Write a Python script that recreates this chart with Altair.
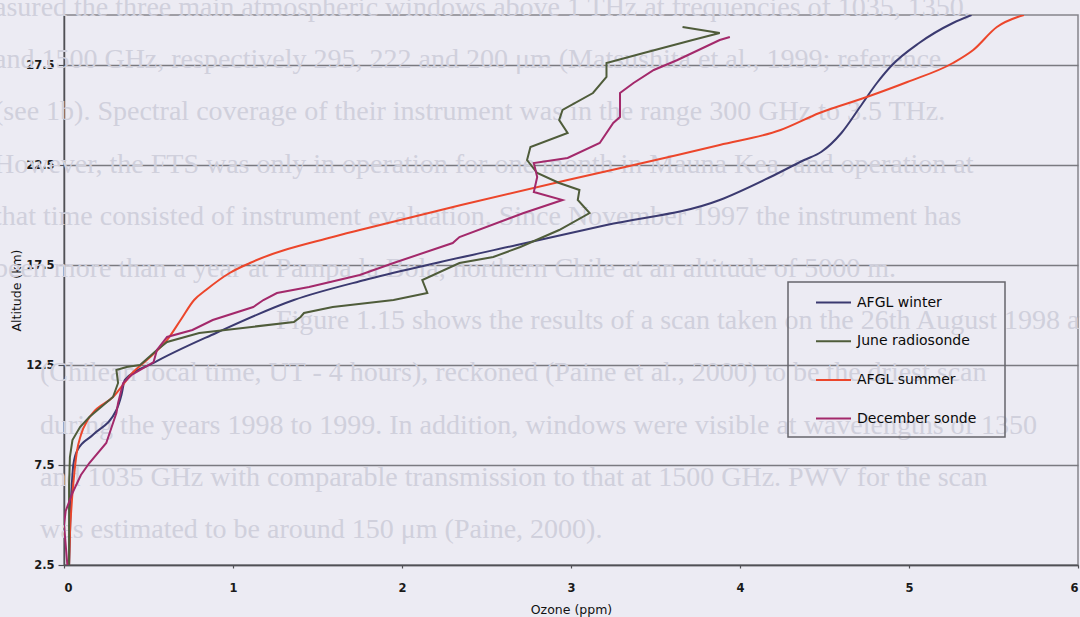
import altair as alt
import pandas as pd

# Ozone profiles: altitude (km) and mixing ratio (ppm)
winter_alt = [2.5, 4.0, 5.5, 7.0, 7.5, 8.25, 9.0, 10.25, 11.0, 11.75, 12.6, 14.1, 15.75, 16.75,
              17.5, 18.5, 19.5, 20.75, 21.9, 22.75, 23.15, 24.1, 25.4, 26.6, 27.5, 28.6, 29.6,
              30.0]
winter_ozone = [0.03, 0.035, 0.04, 0.05, 0.055, 0.08, 0.17, 0.31, 0.34, 0.36, 0.53, 0.90, 1.36,
                1.78, 2.15, 2.68, 3.21, 3.88, 4.18, 4.38, 4.48, 4.60, 4.71, 4.81, 4.90, 5.06,
                5.26, 5.37]

june_alt = [2.5, 4.0, 5.0, 6.5, 7.9, 8.75, 9.4, 9.9, 10.9, 11.6, 12.25, 12.4, 12.5, 13.25,
            13.65, 14.1, 14.65, 14.9, 15.1, 15.4, 15.75, 16.1, 16.75, 17.6, 17.9, 18.4, 19.25,
            20.1, 20.75, 21.25, 21.6, 22.1, 22.75, 23.4, 24.1, 24.75, 25.25, 26.1, 26.9, 27.6,
            28.1, 28.75, 29.1, 29.4]
june_ozone = [0.03, 0.03, 0.03, 0.03, 0.035, 0.05, 0.095, 0.15, 0.29, 0.32, 0.31, 0.37, 0.45,
              0.55, 0.61, 0.80, 1.36, 1.40, 1.42, 1.59, 1.95, 2.15, 2.12, 2.34, 2.54, 2.70,
              2.93, 3.11, 3.04, 3.05, 2.93, 2.80, 2.74, 2.76, 2.98, 2.93, 2.95, 3.13, 3.21,
              3.21, 3.43, 3.72, 3.88, 3.66]

summer_alt = [2.5, 4.0, 5.5, 7.0, 8.1, 9.0, 9.75, 10.1, 10.9, 12.15, 12.75, 13.75, 14.75, 15.75,
              16.25, 17.1, 17.6, 18.9, 19.25, 20.5, 21.75, 23.0, 23.5, 24.25, 25.1, 25.9, 26.65,
              27.6, 28.25, 29.4, 30.0]
summer_ozone = [0.03, 0.035, 0.045, 0.06, 0.075, 0.10, 0.14, 0.17, 0.29, 0.41, 0.49, 0.61, 0.69,
                0.77, 0.84, 0.98, 1.10, 1.59, 1.75, 2.35, 2.98, 3.63, 3.88, 4.24, 4.47, 4.75,
                4.99, 5.26, 5.38, 5.52, 5.68]

december_alt = [2.5, 3.5, 4.5, 5.2, 6.1, 7.0, 7.6, 8.6, 10.1, 10.6, 11.6, 12.0, 12.65, 13.25,
                13.9, 14.25, 14.75, 15.4, 15.75, 16.1, 16.4, 17.0, 17.6, 18.6, 18.9, 20.1,
                20.75, 21.15, 21.9, 22.6, 22.85, 23.6, 24.6, 24.9, 26.1, 26.6, 27.25, 27.75,
                28.75, 28.9]
december_ozone = [0.02, 0.01, 0.0, 0.01, 0.05, 0.10, 0.15, 0.25, 0.31, 0.32, 0.35, 0.40, 0.53,
                  0.55, 0.61, 0.76, 0.88, 1.12, 1.18, 1.26, 1.45, 1.75, 1.95, 2.30, 2.34, 2.72,
                  2.95, 2.78, 2.80, 2.78, 2.98, 3.17, 3.25, 3.29, 3.29, 3.37, 3.49, 3.63, 3.88,
                  3.94]

profile_names = ["AFGL winter", "June radiosonde", "AFGL summer", "December sonde"]
profile_colors = ["#3b3a70", "#4f5c3a", "#ec462b", "#a3296b"]
model_profiles = ["AFGL winter", "AFGL summer"]

altitude_ticks = [2.5, 7.5, 12.5, 17.5, 22.5, 27.5]
ozone_ticks = [0, 1, 2, 3, 4, 5, 6]

# Running text of the page behind the figure
page_lines = [
    "asured the three main atmospheric windows above 1 THz at frequencies of 1035, 1350,",
    "and 1500 GHz, respectively 295, 222 and 200 \u03bcm (Matsushita et al., 1999; reference",
    "(see 1b). Spectral coverage of their instrument was in the range 300 GHz to 3.5 THz.",
    "However, the FTS was only in operation for one month in Mauna Kea, and operation at",
    "that time consisted of instrument evaluation. Since November 1997 the instrument has",
    "been more than a year at Pampa la Bola, northern Chile at an altitude of 5000 m.",
    "Figure 1.15 shows the results of a scan taken on the 26th August 1998 at 12 am",
    "(Chilean local time, UT - 4 hours), reckoned (Paine et al., 2000) to be the driest scan",
    "during the years 1998 to 1999. In addition, windows were visible at wavelengths of 1350",
    "and 1035 GHz with comparable transmission to that at 1500 GHz. PWV for the scan",
    "was estimated to be around 150 \u03bcm (Paine, 2000).",
]
paragraph_start = 6


def line_start(i):
    # first line of a paragraph is indented; the lower lines sit a little further right
    if i == paragraph_start:
        return 276
    return -6 if i < paragraph_start else 40


rows = []
for name, alts, vals in [
    ("AFGL winter", winter_alt, winter_ozone),
    ("June radiosonde", june_alt, june_ozone),
    ("AFGL summer", summer_alt, summer_ozone),
    ("December sonde", december_alt, december_ozone),
]:
    for i, (a, v) in enumerate(zip(alts, vals)):
        rows.append({"profile": name, "altitude": a, "ozone": v, "seq": i})
profiles = pd.DataFrame(rows)

page = pd.DataFrame({
    "row": list(range(len(page_lines))),
    "start": [line_start(i) for i in range(len(page_lines))],
    "line": page_lines,
})

BG = "#ecebf3"
FONT = "DejaVu Sans"
PLOT_W, PLOT_H = 1014, 550
LEGEND_X, LEGEND_Y, LEGEND_W, LEGEND_H = 724, 267, 217, 155

backdrop = alt.Chart(page).mark_text(
    align="left", baseline="middle", font="Liberation Serif", fontSize=28, color="#d0d0dc"
).encode(
    x=alt.X("start:Q", scale=alt.Scale(domain=[0, 1080], range=[-64, 1016]), axis=None),
    y=alt.Y("row:Q", scale=alt.Scale(domain=[0, 10], range=[-7, 515]), axis=None),
    text="line:N",
)

legend_frame = alt.Chart(pd.DataFrame({"box": [0]})).mark_rect(
    fillOpacity=0, stroke="#66666c", strokeWidth=1.5
).encode(
    x=alt.value(LEGEND_X), x2=alt.value(LEGEND_X + LEGEND_W),
    y=alt.value(LEGEND_Y), y2=alt.value(LEGEND_Y + LEGEND_H),
)

x_enc = alt.X(
    "ozone:Q",
    scale=alt.Scale(domain=[0, 6], nice=False),
    axis=alt.Axis(
        title="Ozone (ppm)", values=ozone_ticks, format="d", grid=False,
        tickSize=3, labelPadding=14, titlePadding=10,
    ),
)
y_enc = alt.Y(
    "altitude:Q",
    scale=alt.Scale(domain=[2.5, 30], nice=False, zero=False),
    axis=alt.Axis(
        title="Altitude (km)", values=altitude_ticks, format=".1f", grid=True,
        tickSize=6, labelPadding=4, titlePadding=2,
    ),
)
color_enc = alt.Color(
    "profile:N",
    scale=alt.Scale(domain=profile_names, range=profile_colors),
    legend=alt.Legend(
        title=None, orient="none", legendX=LEGEND_X, legendY=LEGEND_Y + 2, direction="vertical",
        symbolType="stroke", symbolSize=1225, symbolStrokeWidth=2,
        symbolOffset=27, labelOffset=5, rowPadding=12.7, padding=0,
        labelFont=FONT, labelFontSize=14, labelColor="#0a0a0a",
    ),
)

# smooth model atmospheres, measured soundings drawn point to point
models = alt.Chart(profiles).transform_filter(
    alt.FieldOneOfPredicate(field="profile", oneOf=model_profiles)
).mark_line(strokeWidth=2, clip=True, interpolate="monotone").encode(
    x=x_enc, y=y_enc, color=color_enc, order="seq:Q"
)
soundings = alt.Chart(profiles).transform_filter(
    ~alt.FieldOneOfPredicate(field="profile", oneOf=model_profiles)
).mark_line(strokeWidth=2, clip=True).encode(
    x=x_enc, y=y_enc, color=color_enc, order="seq:Q"
)

chart = alt.layer(
    backdrop, legend_frame, alt.layer(models, soundings)
).resolve_scale(
    x="independent", y="independent"
).properties(
    width=PLOT_W,
    height=PLOT_H,
    autosize=alt.AutoSizeParams(type="none"),
    padding={"left": 64, "top": 15, "right": 2, "bottom": 52},
    background=BG,
).configure_view(
    stroke="#85858c", strokeWidth=1.5, fill=BG
).configure_axis(
    labelFont=FONT, labelFontSize=11.5, labelFontWeight="bold", labelColor="#1a1a1a",
    titleFont=FONT, titleFontSize=12.5, titleFontWeight="normal", titleColor="#111111",
    domainColor="#505055", domainWidth=1.5, tickColor="#505055", tickWidth=1.2,
    gridColor="#7a7a80", gridWidth=1.4,
)

chart.save("out.html", embed_options={"renderer": "svg", "actions": False})
